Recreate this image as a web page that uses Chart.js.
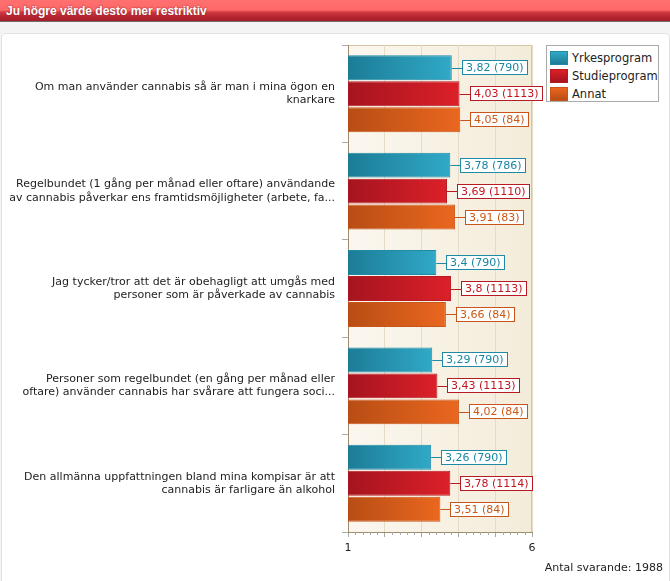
<!DOCTYPE html>
<html lang="sv">
<head>
    <meta charset="UTF-8">
    <title>Ju högre värde desto mer restriktiv</title>
    <style>
        body {
            margin: 0;
            width: 670px;
            height: 581px;
            position: relative;
            overflow: hidden;
            background: #f4f4f4;
            font-family: "DejaVu Sans", Verdana, sans-serif;
        }
        .header {
            position: absolute;
            left: 0; top: 0;
            width: 670px;
            height: 22px;
            border-bottom: 1px solid #6e6e6e;
            background: linear-gradient(#ff7070 0%, #ff6868 48%, #cf3a42 58%, #b42530 80%, #a81d27 100%);
            color: #fff;
            font: bold 12px "Liberation Sans", Arial, sans-serif;
            line-height: 22px;
            padding-left: 6px;
            box-sizing: border-box;
            text-shadow: 0 0 2px #7a1a20;
        }
        .panel {
            position: absolute;
            left: 1px; top: 33px;
            width: 667px;
            height: 560px;
            background: #fff;
            border: 1px solid #e2e2e2;
            border-radius: 4px;
        }
        #chart {
            position: absolute;
            left: 0; top: 0;
        }
        .legend {
            position: absolute;
            left: 546px; top: 45px;
            width: 113px; height: 57px;
            box-sizing: border-box;
            border: 1px solid #aaa;
            background: #fff;
            padding-top: 3px;
        }
        .legend-item {
            height: 18px;
            display: flex;
            align-items: center;
            font-size: 11.5px;
            color: #222;
        }
        .legend-item span.sw {
            display: inline-block;
            width: 18px; height: 14px;
            margin: 0 4px 0 3px;
            box-sizing: border-box;
        }
        .footer {
            position: absolute;
            right: 7px; top: 561px;
            font-size: 11px;
            color: #222;
        }
    </style>
</head>
<body>
    <div class="header">Ju högre värde desto mer restriktiv</div>
    <div class="panel"></div>
    <canvas id="chart" width="670" height="581"></canvas>
    <div class="legend" id="legend"></div>
    <div class="footer">Antal svarande: 1988</div>

    <script src="https://cdn.jsdelivr.net/npm/chart.js"></script>
    <script>
        const categories = [
            ['Om man använder cannabis så är man i mina ögon en', 'knarkare'],
            ['Regelbundet (1 gång per månad eller oftare) användande', 'av cannabis påverkar ens framtidsmöjligheter (arbete, fa...'],
            ['Jag tycker/tror att det är obehagligt att umgås med', 'personer som är påverkade av cannabis'],
            ['Personer som regelbundet (en gång per månad eller', 'oftare) använder cannabis har svårare att fungera soci...'],
            ['Den allmänna uppfattningen bland mina kompisar är att', 'cannabis är farligare än alkohol']
        ];
        const seriesNames = ['Yrkesprogram', 'Studieprogram', 'Annat'];
        const yrkesValues = [3.82, 3.78, 3.4, 3.29, 3.26];
        const yrkesCounts = [790, 786, 790, 790, 790];
        const studieValues = [4.03, 3.69, 3.8, 3.43, 3.78];
        const studieCounts = [1113, 1110, 1113, 1113, 1114];
        const annatValues = [4.05, 3.91, 3.66, 4.02, 3.51];
        const annatCounts = [84, 83, 84, 84, 84];
        const axisMin = 1;
        const axisMax = 6;
        const shownTicks = [1, 6];

        // dark -> light colours per series, plus border and label colour
        const palette = [
            { dark: '#1c7c96', light: '#30a9c7', border: '#1f8aa6', text: '#1a86a3' },
            { dark: '#a5141f', light: '#dc2029', border: '#b81a24', text: '#c3151f' },
            { dark: '#b84d14', light: '#ea671f', border: '#c8561a', text: '#cc5814' }
        ];
        const counts = [yrkesCounts, studieCounts, annatCounts];

        function fmt(v) {
            return String(v).replace('.', ',');
        }

        function barGradient(i) {
            return (ctx) => {
                const chart = ctx.chart;
                const area = chart.chartArea;
                if (!area || ctx.raw === undefined) return palette[i].light;
                const end = chart.scales.x.getPixelForValue(ctx.raw);
                const g = chart.ctx.createLinearGradient(area.left, 0, end, 0);
                g.addColorStop(0, palette[i].dark);
                g.addColorStop(1, palette[i].light);
                return g;
            };
        }

        // plot background + top/right frame
        const plotBackground = {
            id: 'plotBackground',
            beforeDraw(chart) {
                const { ctx, chartArea: a } = chart;
                const g = ctx.createLinearGradient(a.left, 0, a.right, 0);
                g.addColorStop(0, '#fbf7ef');
                g.addColorStop(1, '#f4ecda');
                ctx.save();
                ctx.fillStyle = g;
                ctx.fillRect(a.left, a.top, a.right - a.left, a.bottom - a.top);
                ctx.strokeStyle = '#d6c6a4';
                ctx.lineWidth = 1;
                ctx.beginPath();
                ctx.moveTo(a.left, a.top + 0.5);
                ctx.lineTo(a.right - 0.5, a.top + 0.5);
                ctx.lineTo(a.right - 0.5, a.bottom);
                ctx.stroke();
                ctx.restore();
            }
        };

        // short minor ticks under the x axis
        const minorTicks = {
            id: 'minorTicks',
            afterDraw(chart) {
                const { ctx, chartArea: a } = chart;
                const x = chart.scales.x;
                ctx.save();
                ctx.strokeStyle = '#a8a8a8';
                ctx.lineWidth = 1;
                for (let k = axisMin * 5; k <= axisMax * 5; k++) {
                    if (k % 5 === 0) continue;
                    const px = Math.round(x.getPixelForValue(k / 5)) + 0.5;
                    ctx.beginPath();
                    ctx.moveTo(px, a.bottom);
                    ctx.lineTo(px, a.bottom + 3);
                    ctx.stroke();
                }
                ctx.restore();
            }
        };

        // boxed value labels with a leader line
        const valueBoxes = {
            id: 'valueBoxes',
            afterDatasetsDraw(chart) {
                const ctx = chart.ctx;
                ctx.save();
                ctx.font = '11px "DejaVu Sans", Verdana, sans-serif';
                ctx.textBaseline = 'middle';
                chart.data.datasets.forEach((ds, i) => {
                    const meta = chart.getDatasetMeta(i);
                    meta.data.forEach((bar, j) => {
                        const text = fmt(ds.data[j]) + ' (' + counts[i][j] + ')';
                        const w = Math.ceil(ctx.measureText(text).width) + 8;
                        const h = 15;
                        const bx = Math.round(bar.x) + 10;
                        const by = Math.round(bar.y - h / 2);
                        ctx.strokeStyle = palette[i].border;
                        ctx.lineWidth = 1;
                        ctx.beginPath();
                        ctx.moveTo(bar.x, Math.round(bar.y) + 0.5);
                        ctx.lineTo(bx, Math.round(bar.y) + 0.5);
                        ctx.stroke();
                        ctx.fillStyle = '#fff';
                        ctx.fillRect(bx, by, w, h);
                        ctx.strokeRect(bx + 0.5, by + 0.5, w - 1, h - 1);
                        ctx.fillStyle = palette[i].text;
                        ctx.fillText(text, bx + 4, by + h / 2 + 1);
                    });
                });
                ctx.restore();
            }
        };

        const seriesValues = [yrkesValues, studieValues, annatValues];

        const chart = new Chart(document.getElementById('chart'), {
            type: 'bar',
            data: {
                labels: categories,
                datasets: seriesNames.map((name, i) => ({
                    label: name,
                    data: seriesValues[i],
                    backgroundColor: barGradient(i),
                    borderColor: palette[i].border,
                    borderWidth: 1,
                    categoryPercentage: 0.8,
                    barPercentage: 0.96
                }))
            },
            options: {
                indexAxis: 'y',
                responsive: false,
                animation: false,
                devicePixelRatio: 1,
                layout: {
                    padding: { left: 0, top: 45, right: 138, bottom: 29 }
                },
                plugins: {
                    legend: { display: false },
                    tooltip: { enabled: false }
                },
                scales: {
                    x: {
                        min: axisMin,
                        max: axisMax,
                        afterFit(scale) { scale.height = 20; },
                        ticks: {
                            stepSize: 1,
                            autoSkip: false,
                            maxRotation: 0,
                            padding: 5,
                            color: '#222',
                            font: { family: '"DejaVu Sans", Verdana, sans-serif', size: 11 },
                            callback: (v) => shownTicks.includes(v) ? String(v) : ''
                        },
                        grid: {
                            color: '#e6dcc5',
                            tickColor: '#a8a8a8',
                            tickLength: 5
                        },
                        border: { color: '#9e8d6c', width: 1 }
                    },
                    y: {
                        afterFit(scale) { scale.width = 348; },
                        ticks: {
                            padding: 7,
                            color: '#222',
                            font: { family: '"DejaVu Sans", Verdana, sans-serif', size: 11, lineHeight: 1.2 }
                        },
                        grid: {
                            drawOnChartArea: false,
                            tickColor: '#aaaaaa',
                            tickLength: 6
                        },
                        border: { color: '#9e8d6c', width: 1 }
                    }
                }
            },
            plugins: [plotBackground, minorTicks, valueBoxes]
        });

        // legend box
        const legendEl = document.getElementById('legend');
        seriesNames.forEach((name, i) => {
            const item = document.createElement('div');
            item.className = 'legend-item';
            item.innerHTML = '<span class="sw" style="background:linear-gradient(' +
                palette[i].light + ',' + palette[i].dark + ');border:1px solid ' + palette[i].border +
                '"></span>' + name;
            legendEl.appendChild(item);
        });
    </script>
</body>
</html>
